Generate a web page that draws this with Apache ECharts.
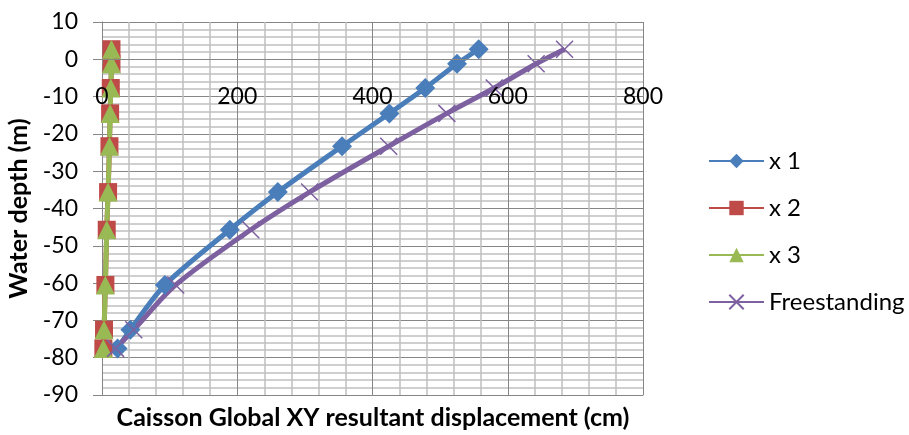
<!DOCTYPE html>
<html><head><meta charset="utf-8">
<script src="https://cdn.jsdelivr.net/npm/echarts@6/dist/echarts.min.js"></script>
<style>html,body{margin:0;padding:0;background:#fff}#c{width:909px;height:435px}</style>
</head><body><div id="c"></div>
<script>
const depths = [2.7, -1.2, -7.7, -14.5, -23.3, -35.6, -45.7, -60.5, -72.5, -77.5];
const x1 = [557, 525, 478, 425, 355, 260, 189, 93, 42, 23];
const x2 = [14, 14, 13, 12, 11, 9, 7, 5, 3, 2];
const x3 = [14, 14, 13, 12, 11, 9, 7, 5, 3, 2];
const freestanding = [684, 642, 580, 510, 424, 307, 220, 109, 47, 20];
const seriesNames = ['x 1', 'x 2', 'x 3', 'Freestanding'];
const xTicks = [0, 800, 200];
const yTicks = [-90, 10, 10];

const FONT = 'Lato';
const pairs = (xs) => xs.map((v, i) => [v, depths[i]]);
const crossPath = 'path://M0,0L10,10M10,0L0,10';

const chart = echarts.init(document.getElementById('c'), null, {renderer: 'canvas'});
const mk = (name, data, color, symbol, size, extra) => Object.assign({
  name, type: 'line', data: pairs(data), smooth: 0.3,
  xAxisIndex: 0, yAxisIndex: 0,
  symbol, symbolSize: size,
  lineStyle: {color, width: 5},
  itemStyle: {color},
  emphasis: {disabled: true}
}, extra || {});

const plotTop = 22, plotH = 373;
const zeroPx = plotH * (yTicks[1] - 0) / (yTicks[1] - yTicks[0]);

chart.setOption({
  animation: false,
  textStyle: {fontFamily: FONT},
  grid: [
    {left: 102, width: 541, top: plotTop, height: plotH, containLabel: false, outerBoundsMode: 'none'},
    {left: 102, width: 541, top: plotTop, height: zeroPx, containLabel: false, outerBoundsMode: 'none'}
  ],
  legend: {
    orient: 'vertical', left: 703, top: 144, itemGap: 23,
    itemWidth: 55, itemHeight: 18,
    textStyle: {fontFamily: FONT, fontSize: 24, color: '#000'},
    data: seriesNames
  },
  xAxis: [{
    gridIndex: 0, type: 'value', min: xTicks[0], max: xTicks[1], interval: xTicks[2],
    axisLine: {show: true, onZero: false, lineStyle: {color: '#868686', width: 1}},
    axisTick: {show: false},
    axisLabel: {show: false},
    splitLine: {show: true, lineStyle: {color: '#868686', width: 1}},
    minorTick: {show: false, splitNumber: 5},
    minorSplitLine: {show: true, lineStyle: {color: '#c0c0c0', width: 1.5}}
  }, {
    gridIndex: 1, type: 'value', min: xTicks[0], max: xTicks[1], interval: xTicks[2],
    position: 'bottom', z: 10,
    axisLine: {show: true, onZero: false, lineStyle: {color: '#868686', width: 1}},
    axisTick: {show: true, length: 5, lineStyle: {color: '#868686'}},
    axisLabel: {fontSize: 23, color: '#000', margin: 26, fontFamily: FONT,
      showMinLabel: true, showMaxLabel: true, hideOverlap: false},
    splitLine: {show: false}
  }],
  yAxis: [{
    gridIndex: 0, type: 'value', min: yTicks[0], max: yTicks[1], interval: yTicks[2],
    name: 'Water depth (m)', nameLocation: 'middle', nameGap: 71, nameRotate: 90,
    nameTextStyle: {fontSize: 25, fontWeight: 'bold', color: '#000', fontFamily: FONT},
    axisLine: {show: true, onZero: false, lineStyle: {color: '#868686', width: 1}},
    axisTick: {show: true, length: 9, lineStyle: {color: '#868686'}},
    axisLabel: {fontSize: 23, color: '#000', margin: 24, fontFamily: FONT,
      showMinLabel: true, showMaxLabel: true},
    splitLine: {show: true, lineStyle: {color: '#868686', width: 1}},
    minorTick: {show: false, splitNumber: 5},
    minorSplitLine: {show: true, lineStyle: {color: '#c0c0c0', width: 1.5}}
  }, {
    gridIndex: 1, type: 'value', min: 0, max: yTicks[1], show: false
  }],
  graphic: [{
    type: 'text', x: 373, y: 418,
    style: {text: 'Caisson Global XY resultant displacement (cm)',
      font: 'bold 25px ' + FONT, fill: '#000', align: 'center', verticalAlign: 'middle'}
  }],
  series: [
    mk(seriesNames[0], x1, '#4a7ebb', 'diamond', 20),
    mk(seriesNames[1], x2, '#be4b48', 'rect', 18),
    mk(seriesNames[2], x3, '#98b954', 'triangle', 19),
    mk(seriesNames[3], freestanding, '#7d60a0', crossPath, 17,
      {itemStyle: {color: 'none', borderColor: '#7d60a0', borderWidth: 1.5}})
  ]
});
</script></body></html>
